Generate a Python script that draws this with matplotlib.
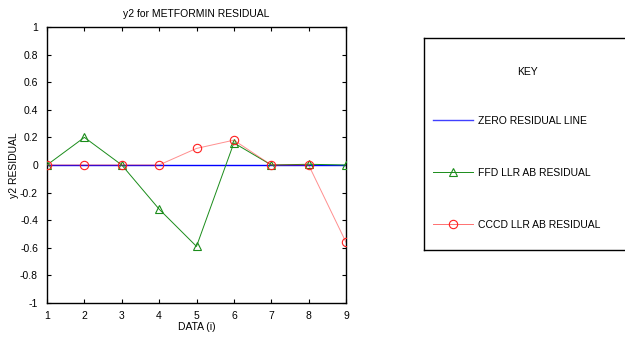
import numpy as np
import matplotlib.pyplot as plt
from matplotlib.lines import Line2D

plt.rcParams['font.family'] = ['Liberation Sans', 'DejaVu Sans']

# data
data_i = [1, 2, 3, 4, 5, 6, 7, 8, 9]
zero_line = [0, 0, 0, 0, 0, 0, 0, 0, 0]
ffd_resid = [0, 0.2, 0, -0.32, -0.59, 0.16, 0, 0.005, 0]
cccd_resid = [0, 0, 0, 0, 0.12, 0.18, 0, 0, -0.56]
y_ticks = [-1, -0.8, -0.6, -0.4, -0.2, 0, 0.2, 0.4, 0.6, 0.8, 1]
y_tick_labels = ['-1', '-0.8', '-0.6', '-0.4', '-0.2', '0', '0.2', '0.4', '0.6', '0.8', '1']

FS = 7.5
GREEN = '#1a8c1a'
RED = '#ff2020'

fig = plt.figure(figsize=(6.25, 3.38), dpi=100)
fig.patch.set_facecolor('white')

ax = fig.add_axes([0.0752, 0.1036, 0.4784, 0.8166])
ax.plot(data_i, zero_line, color='#0000ff', lw=1.0, zorder=2)
ax.plot(data_i, ffd_resid, color=GREEN, lw=0.7, marker='^', ms=6,
        mfc='none', mec=GREEN, mew=0.8, zorder=3)
ax.plot(data_i, cccd_resid, color=RED, lw=0.7, alpha=0.5, zorder=4)
ax.plot(data_i, cccd_resid, ls='none', marker='o', ms=6,
        mfc='none', mec=RED, mew=0.8, zorder=5)

ax.set_xlim(1, 9)
ax.set_ylim(-1, 1)
ax.set_xticks(data_i)
ax.set_yticks(y_ticks)
ax.set_yticklabels(y_tick_labels)
ax.tick_params(direction='in', top=True, right=True, labelsize=FS,
               length=3, width=0.8)
ax.tick_params(axis='x', pad=5.5)
ax.tick_params(axis='y', pad=6.5)
for s in ax.spines.values():
    s.set_linewidth(1.0)
ax.set_title('y2 for METFORMIN RESIDUAL', fontsize=FS, pad=7)
ax.set_xlabel('DATA (i)', fontsize=FS, labelpad=1)
ax.set_ylabel('y2 RESIDUAL', fontsize=FS, labelpad=0.5)

# key box
kax = fig.add_axes([0.678, 0.2604, 0.34, 0.6272])
kax.set_xticks([])
kax.set_yticks([])
for s in kax.spines.values():
    s.set_linewidth(1.0)
kax.text(0.49, 0.84, 'KEY', transform=kax.transAxes, ha='center',
         va='center', fontsize=FS)

handles = [
    Line2D([], [], color='#4040ff', lw=1.0),
    Line2D([], [], color=GREEN, lw=0.7, marker='^', ms=6, mfc='none', mew=0.8),
    Line2D([], [], color='#ff7070', lw=0.7, marker='o', ms=6, mfc='none',
           mec=RED, mew=0.8),
]
labels = ['ZERO RESIDUAL LINE', 'FFD LLR AB RESIDUAL', 'CCCD LLR AB RESIDUAL']
kax.legend(handles, labels, loc='upper left', bbox_to_anchor=(0.023, 0.653),
           frameon=False, fontsize=FS, handlelength=3.9, handletextpad=0.45,
           labelspacing=4.05, numpoints=1, borderaxespad=0)

fig.savefig('out.png', dpi=100)
